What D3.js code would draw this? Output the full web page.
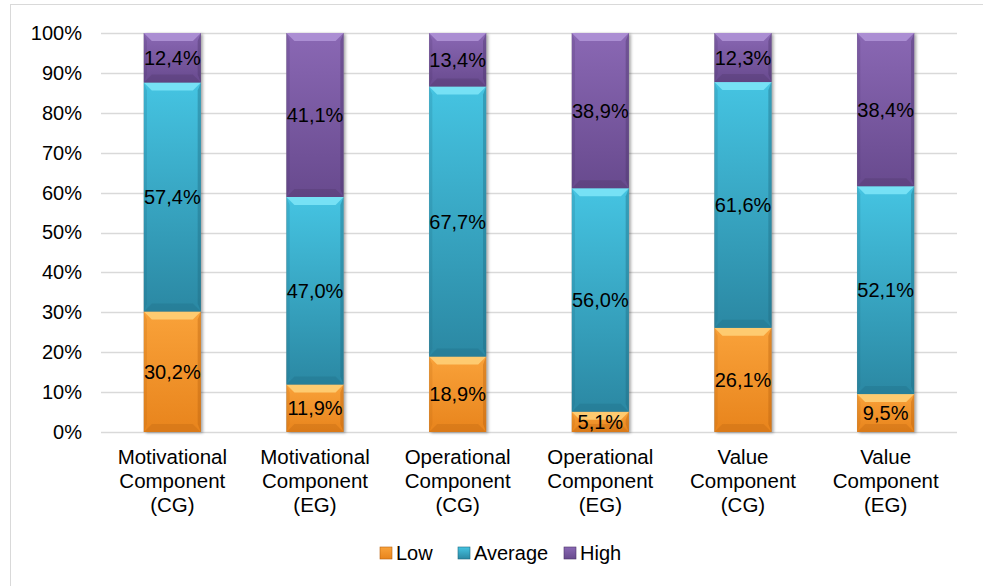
<!DOCTYPE html>
<html>
<head>
<meta charset="utf-8">
<script src="https://cdn.jsdelivr.net/npm/d3@7"></script>
<style>
  body { margin: 0; background: #fff; }
  text { font-family: "Liberation Sans", Arial, sans-serif; fill: #000; }
</style>
</head>
<body>
<script>
// data
let categories = [
    ["Motivational", "Component", "(CG)"],
    ["Motivational", "Component", "(EG)"],
    ["Operational", "Component", "(CG)"],
    ["Operational", "Component", "(EG)"],
    ["Value", "Component", "(CG)"],
    ["Value", "Component", "(EG)"]
]
let seriesNames = ["Low", "Average", "High"]
let lowValues = [30.2, 11.9, 18.9, 5.1, 26.1, 9.5]
let averageValues = [57.4, 47.0, 67.7, 56.0, 61.6, 52.1]
let highValues = [12.4, 41.1, 13.4, 38.9, 12.3, 38.4]
let yTicks = [0, 10, 20, 30, 40, 50, 60, 70, 80, 90, 100]

//colors: top, bottom, bevel light, bevel dark
let colors = {
    Low: ["#f9a23a", "#e8841c", "#ffd27a", "#b8620f"],
    Average: ["#45c4e2", "#2b88a3", "#7fe6f8", "#1f6a80"],
    High: ["#8a68b4", "#684a8e", "#b195d8", "#4c3468"]
}

let svgWidth = 983, svgHeight = 586
let margin = { left: 101, right: 26, top: 33, bottom: 154 }

let svg = d3.select("body").append("svg")
    .attr("width", svgWidth)
    .attr("height", svgHeight)

svg.append("rect")
    .attr("x", 10.5).attr("y", 4.5)
    .attr("width", 990).attr("height", 600)
    .attr("fill", "#fff").attr("stroke", "#d9d9d9")

let table = categories.map((c, i) => ({
    idx: i, Low: lowValues[i], Average: averageValues[i], High: highValues[i]
}))

let x = d3.scaleBand()
    .domain(d3.range(categories.length))
    .range([margin.left, svgWidth - margin.right])
    .paddingInner(0.6).paddingOuter(0.3)

let y = d3.scaleLinear()
    .domain([0, 100])
    .range([svgHeight - margin.bottom, margin.top])

// gridlines
svg.append("g")
    .selectAll("line")
    .data(yTicks)
    .enter().append("line")
    .attr("x1", margin.left).attr("x2", svgWidth - margin.right)
    .attr("y1", d => Math.round(y(d)) + 0.5).attr("y2", d => Math.round(y(d)) + 0.5)
    .attr("stroke", "#d9d9d9").attr("stroke-width", 1.3)

let yAxis = d3.axisLeft(y).tickValues(yTicks).tickSize(0).tickPadding(19)
    .tickFormat(d => d + "%")
let yg = svg.append("g").attr("transform", "translate(" + margin.left + ",0)").call(yAxis)
yg.select(".domain").remove()
yg.selectAll("text").attr("font-size", 20).attr("font-family", null)

let defs = svg.append("defs")
seriesNames.forEach(k => {
    let g = defs.append("linearGradient").attr("id", "grad" + k)
        .attr("x1", 0).attr("y1", 0).attr("x2", 0).attr("y2", 1)
    g.append("stop").attr("offset", 0).attr("stop-color", colors[k][0])
    g.append("stop").attr("offset", 1).attr("stop-color", colors[k][1])
})
let sh = defs.append("filter").attr("id", "shadow").attr("x", -0.2).attr("y", -0.1).attr("width", 1.5).attr("height", 1.2)
sh.append("feDropShadow").attr("dx", 2).attr("dy", 1).attr("stdDeviation", 1.5)
    .attr("flood-color", "#000").attr("flood-opacity", 0.35)

let stack = d3.stack().keys(seriesNames)
let layers = stack(table)

let bw = x.bandwidth()
let bev = 8

// shadow behind whole bar
svg.append("g").selectAll("rect")
    .data(table)
    .enter().append("rect")
    .attr("x", d => x(d.idx)).attr("width", bw)
    .attr("y", y(100)).attr("height", y(0) - y(100))
    .attr("fill", "#888").attr("filter", "url(#shadow)")

layers.forEach(layer => {
    let k = layer.key
    let g = svg.append("g").attr("class", k)
    let seg = g.selectAll("g").data(layer).enter().append("g")

    seg.append("rect")
        .attr("x", (d, i) => x(i)).attr("width", bw)
        .attr("y", d => y(d[1])).attr("height", d => y(d[0]) - y(d[1]))
        .attr("fill", "url(#grad" + k + ")")

    // top bevel
    seg.append("polygon")
        .attr("points", (d, i) => {
            let x0 = x(i), x1 = x(i) + bw, y0 = y(d[1]), b = Math.min(bev, (y(d[0]) - y(d[1])) / 2)
            return [[x0, y0], [x1, y0], [x1 - b, y0 + b], [x0 + b, y0 + b]].join(" ")
        })
        .attr("fill", colors[k][2]).attr("opacity", 0.85)
    // bottom bevel
    seg.append("polygon")
        .attr("points", (d, i) => {
            let x0 = x(i), x1 = x(i) + bw, y1 = y(d[0]), b = Math.min(bev, (y(d[0]) - y(d[1])) / 2)
            return [[x0, y1], [x1, y1], [x1 - b, y1 - b], [x0 + b, y1 - b]].join(" ")
        })
        .attr("fill", colors[k][3]).attr("opacity", 0.3)
    // side bevels
    seg.append("polygon")
        .attr("points", (d, i) => {
            let x0 = x(i), y0 = y(d[1]), y1 = y(d[0]), b = Math.min(bev, (y1 - y0) / 2)
            return [[x0, y0], [x0 + b * 0.4, y0 + b], [x0 + b * 0.4, y1 - b], [x0, y1]].join(" ")
        })
        .attr("fill", colors[k][3]).attr("opacity", 0.2)
    seg.append("polygon")
        .attr("points", (d, i) => {
            let x1 = x(i) + bw, y0 = y(d[1]), y1 = y(d[0]), b = Math.min(bev, (y1 - y0) / 2)
            return [[x1, y0], [x1 - b * 0.4, y0 + b], [x1 - b * 0.4, y1 - b], [x1, y1]].join(" ")
        })
        .attr("fill", colors[k][3]).attr("opacity", 0.4)

    seg.append("text")
        .attr("x", (d, i) => x(i) + bw / 2)
        .attr("y", d => (y(d[0]) + y(d[1])) / 2)
        .attr("dy", "0.35em")
        .attr("text-anchor", "middle")
        .attr("font-size", 20)
        .text(d => (d[1] - d[0]).toFixed(1).replace(".", ",") + "%")
})

// category labels
let cat = svg.append("g").selectAll("text")
    .data(categories)
    .enter().append("text")
    .attr("text-anchor", "middle")
    .attr("font-size", 20.5)
    .attr("x", (d, i) => x(i) + bw / 2)
    .attr("y", 464)
cat.selectAll("tspan")
    .data(d => d)
    .enter().append("tspan")
    .attr("x", function () { return this.parentNode.getAttribute("x") })
    .attr("dy", (d, j) => j === 0 ? 0 : 24)
    .text(d => d)

// legend
let legendX = [380, 458, 564]
let leg = svg.append("g").selectAll("g")
    .data(seriesNames)
    .enter().append("g")
    .attr("transform", (d, i) => "translate(" + legendX[i] + ",547)")
leg.append("rect")
    .attr("width", 12).attr("height", 12)
    .attr("fill", d => "url(#grad" + d + ")")
    .attr("stroke", d => colors[d][3]).attr("stroke-width", 0.6)
leg.append("text")
    .attr("x", 16).attr("y", 6).attr("dy", "0.35em")
    .attr("font-size", 20)
    .text(d => d)
</script>
</body>
</html>
